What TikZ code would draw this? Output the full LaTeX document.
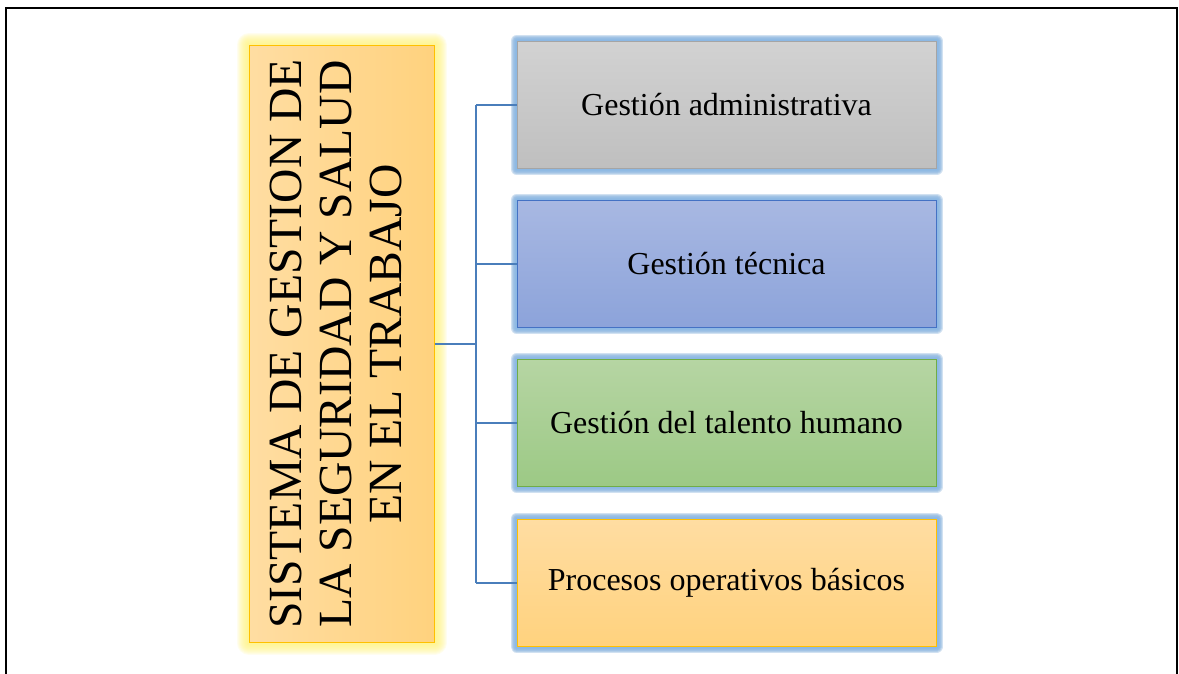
\documentclass[tikz,border=0pt]{standalone}
\usepackage{fontspec}
\setmainfont{Liberation Serif}
\usetikzlibrary{backgrounds}
\definecolor{conncol}{HTML}{4A7EBB}
\definecolor{orgborder}{HTML}{FFC000}
\definecolor{orgA}{HTML}{FFDDA2}
\definecolor{orgB}{HTML}{FFD27E}
\definecolor{grayA}{HTML}{D2D2D2}
\definecolor{grayB}{HTML}{BFBFBF}
\definecolor{grayborder}{HTML}{A5A5A5}
\definecolor{blueA}{HTML}{A8B8E2}
\definecolor{blueB}{HTML}{8CA3DA}
\definecolor{blueborder}{HTML}{4472C4}
\definecolor{greenA}{HTML}{B6D5A3}
\definecolor{greenB}{HTML}{9CC985}
\definecolor{greenborder}{HTML}{70AD47}
\definecolor{glowblue}{HTML}{8FC0F0}
\definecolor{glowyellow}{HTML}{FFF27A}
\definecolor{shadowblue}{HTML}{4A78A8}
\begin{document}
\begin{tikzpicture}[x=1pt,y=-1pt,
  conn/.style={draw=conncol,line width=2pt},
  rbox/.style={rectangle,line width=1pt,minimum width=419pt,minimum height=127pt,
    inner sep=0pt,font=\fontsize{32}{38}\selectfont},
  mainbox/.style={rectangle,line width=1pt,minimum width=185pt,minimum height=596pt,inner sep=0pt,
    draw=orgborder,left color=orgA,right color=orgB}
]
\useasboundingbox (0,0) rectangle (1179,674);
\clip (0,0) rectangle (1179,674);
\draw[line width=1.6pt] (6,700) -- (6,8) -- (1177,8) -- (1177,700);

\node[mainbox] (main) at (341.5,344) {\rotatebox{90}{\fontsize{47.6}{50}\selectfont\setlength\tabcolsep{0pt}\begin{tabular}{c}SISTEMA DE GESTION DE\\LA SEGURIDAD Y SALUD\\EN EL TRABAJO\end{tabular}}};

\node[rbox,draw=grayborder,top color=grayA,bottom color=grayB] (g1) at (726.5,105) {Gestión administrativa};
\node[rbox,draw=blueborder,top color=blueA,bottom color=blueB] (g2) at (726.5,264) {Gestión técnica};
\node[rbox,draw=greenborder,top color=greenA,bottom color=greenB] (g3) at (726.5,423) {Gestión del talento humano};
\node[rbox,draw=orgborder,top color=orgA,bottom color=orgB] (g4) at (726.5,582.5) {Procesos operativos básicos};

\begin{scope}[on background layer]
  \foreach \i in {1,...,12}{
    \draw[glowyellow,line width=2*\i pt,opacity=0.12,line join=round] (main.south west) rectangle (main.north east);
  }
  \foreach \g in {g1,g2,g3,g4}{
    \begin{scope}[shift={(5,5)}]
      \foreach \i in {1,...,6}{
        \draw[shadowblue,line width=2*\i pt,opacity=0.16,line join=round] (\g.south west) rectangle (\g.north east);
      }
    \end{scope}
    \foreach \i in {1,...,6}{
      \draw[glowblue,line width=2*\i pt,opacity=0.2,line join=round] (\g.south west) rectangle (\g.north east);
    }
  }
\end{scope}

\coordinate (tk) at (476,0);
\draw[conn] (main.east) -- (main.east -| tk);
\draw[conn] (g1.west -| tk) -- (g4.west -| tk);
\foreach \g in {g1,g2,g3,g4}{
  \draw[conn] (\g.west -| tk) -- (\g.west);
}
\end{tikzpicture}
\end{document}
